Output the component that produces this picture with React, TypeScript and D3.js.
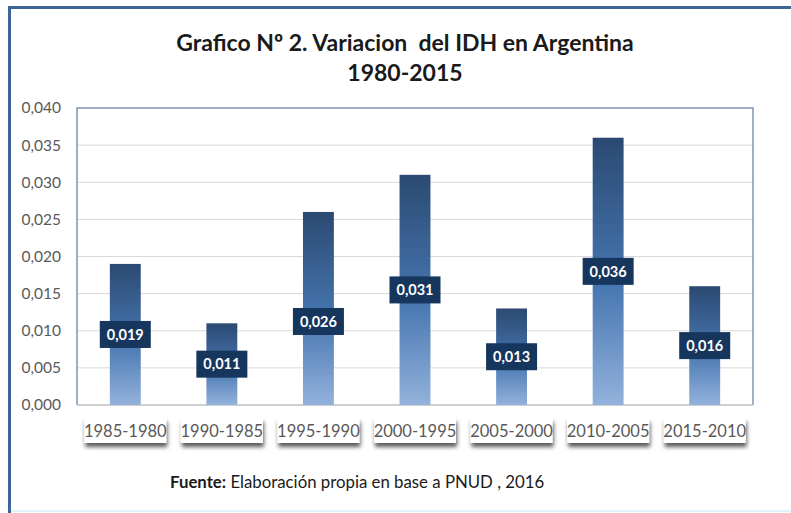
import React from 'react'
import * as d3 from 'd3'

const categories = ['1985-1980', '1990-1985', '1995-1990', '2000-1995', '2005-2000', '2010-2005', '2015-2010']
const values = [0.019, 0.011, 0.026, 0.031, 0.013, 0.036, 0.016]
const valueLabels = ['0,019', '0,011', '0,026', '0,031', '0,013', '0,036', '0,016']
const yTicks = [0, 0.005, 0.01, 0.015, 0.02, 0.025, 0.03, 0.035, 0.04]
const titleLines = ['Grafico Nº 2. Variacion  del IDH en Argentina', '1980-2015']

const W = 791
const H = 513
const plot = { left: 77, right: 753, top: 108, bottom: 405 }
const font = 'Lato, "Open Sans", sans-serif'

// one data label was dragged lower by hand in the original
const labelNudge: Record<string, number> = { '1995-1990': 13 }

export default function App() {
  const x = d3
    .scaleBand()
    .domain(categories)
    .range([plot.left, plot.right])
    .paddingInner(0.68)
    .paddingOuter(0.34)

  const y = d3
    .scaleLinear()
    .domain([0, 0.04])
    .range([plot.bottom, plot.top])

  const fmt = (d: number) => d3.format('.3f')(d).replace('.', ',')

  return (
    <svg width={W} height={H} style={{ position: 'absolute', left: 0, top: 0, background: '#fff' }}>
      <defs>
        <linearGradient id="barGrad" x1="0" y1="0" x2="0" y2="1">
          <stop offset="0%" stopColor="#2b4a72" />
          <stop offset="55%" stopColor="#4676b0" />
          <stop offset="100%" stopColor="#93b2dc" />
        </linearGradient>
        <filter id="shadow" x="-20%" y="-40%" width="140%" height="200%">
          <feDropShadow dx="1" dy="4" stdDeviation="2" floodColor="#000" floodOpacity="0.65" />
        </filter>
      </defs>

      {/* outer frame */}
      <line x1={9.5} y1={7.5} x2={W} y2={7.5} stroke="#3d6595" strokeWidth={3} />
      <line x1={9.5} y1={6} x2={9.5} y2={H} stroke="#3d6595" strokeWidth={3} />
      <line x1={11} y1={511} x2={W} y2={511} stroke="#dff3fb" strokeWidth={2} />

      {/* title */}
      {titleLines.map((t, i) => (
        <text key={t} x={405} y={51 + i * 30} textAnchor="middle" fontFamily={font}
          fontWeight="bold" fontSize={23} fill="#1a1a1a" style={{ whiteSpace: 'pre' }}>{t}</text>
      ))}

      {/* grid */}
      {yTicks.map((t) => (
        <g key={t}>
          {t > 0 && t < 0.04 && (
            <line x1={plot.left} x2={plot.right} y1={y(t)} y2={y(t)} stroke="#d9d9d9" strokeWidth={1} />
          )}
          <text x={61} y={y(t)} dy="0.35em" textAnchor="end" fontFamily={font}
            fontSize={15.5} fill="#595959">{fmt(t)}</text>
        </g>
      ))}

      {/* plot border */}
      <path d={`M${plot.left},${plot.bottom}V${plot.top}H${plot.right}V${plot.bottom}`}
        fill="none" stroke="#7d97b6" strokeWidth={1.5} />
      <line x1={plot.left} x2={plot.right} y1={plot.bottom} y2={plot.bottom} stroke="#bfbfbf" strokeWidth={1.5} />

      {/* bars */}
      {values.map((v, i) => {
        const c = categories[i]
        const cx = (x(c) as number) + x.bandwidth() / 2
        const my = y(v / 2) + (labelNudge[c] || 0)
        return (
          <g key={c}>
            <rect x={x(c)} y={y(v)} width={x.bandwidth()} height={plot.bottom - y(v)}
              fill="url(#barGrad)" />
            <rect x={cx - 25.5} y={my - 13.5} width={51} height={27} fill="#17365d" />
            <text x={cx} y={my} dy="0.36em" textAnchor="middle" fontFamily={font}
              fontWeight="bold" fontSize={14.5} fill="#fff">{valueLabels[i]}</text>
          </g>
        )
      })}

      {/* category labels */}
      {categories.map((c) => {
        const cx = (x(c) as number) + x.bandwidth() / 2
        return (
          <g key={c}>
            <rect x={cx - 41} y={418} width={82} height={25} fill="#fff" filter="url(#shadow)" />
            <text x={cx} y={431} dy="0.36em" textAnchor="middle" fontFamily={font}
              fontSize={16.5} fill="#595959">{c}</text>
          </g>
        )
      })}

      {/* source */}
      <text x={170} y={488} fontFamily={font} fontSize={16.8} fill="#1a1a1a">
        <tspan fontWeight="bold">Fuente:</tspan> Elaboración propia en base a PNUD , 2016
      </text>
    </svg>
  )
}
